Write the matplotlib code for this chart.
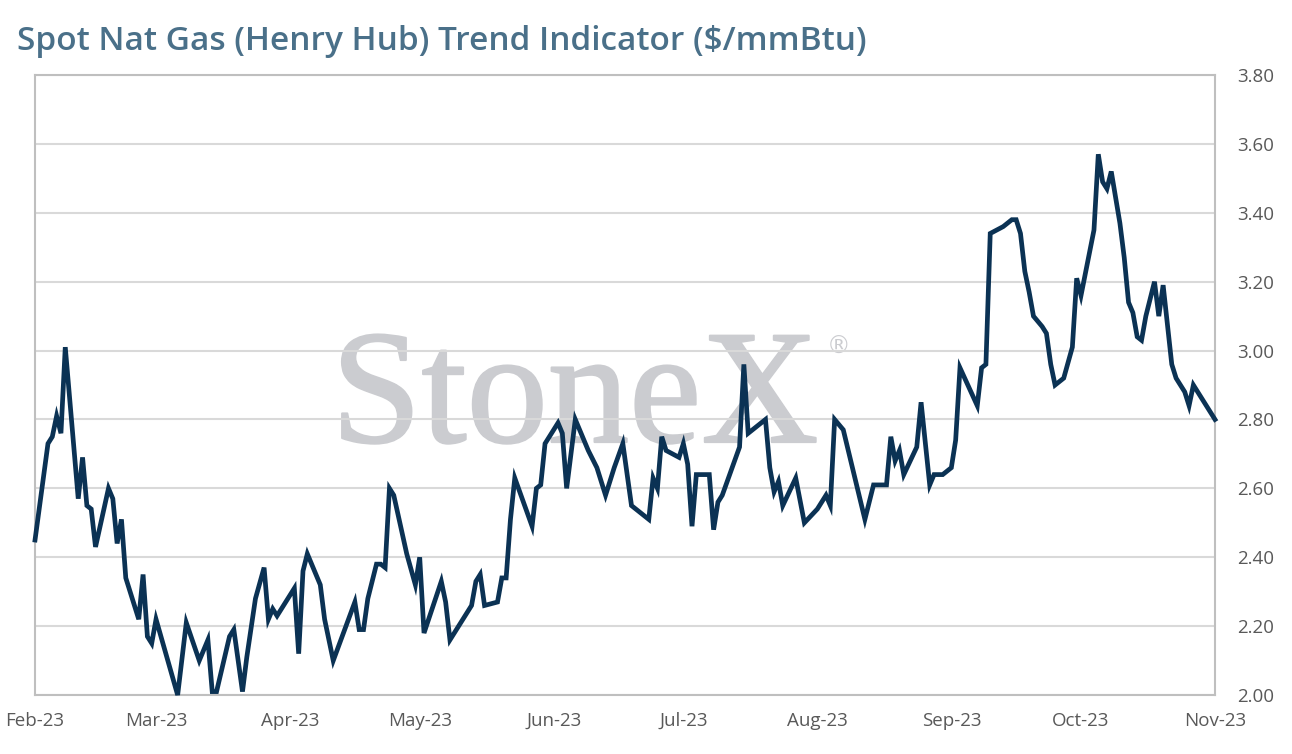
import matplotlib
matplotlib.use("Agg")
import matplotlib.pyplot as plt
import matplotlib.dates as mdates
import matplotlib.patheffects as pe
import pandas as pd

# spot henry hub trend indicator
dates = [
    "2023-02-01", "2023-02-04", "2023-02-05", "2023-02-06", "2023-02-07", "2023-02-08",
    "2023-02-11", "2023-02-12", "2023-02-13", "2023-02-14", "2023-02-15", "2023-02-18",
    "2023-02-19", "2023-02-20", "2023-02-21", "2023-02-22", "2023-02-25", "2023-02-26",
    "2023-02-27", "2023-02-28", "2023-03-01", "2023-03-06", "2023-03-08", "2023-03-11",
    "2023-03-13", "2023-03-14", "2023-03-15", "2023-03-18", "2023-03-19", "2023-03-21",
    "2023-03-22", "2023-03-24", "2023-03-26", "2023-03-27", "2023-03-28", "2023-03-29",
    "2023-03-31", "2023-04-02", "2023-04-03", "2023-04-04", "2023-04-05", "2023-04-08",
    "2023-04-09", "2023-04-11", "2023-04-16", "2023-04-17", "2023-04-18", "2023-04-19",
    "2023-04-21", "2023-04-22", "2023-04-23", "2023-04-24", "2023-04-25", "2023-04-28",
    "2023-04-30", "2023-05-01", "2023-05-02", "2023-05-06", "2023-05-07", "2023-05-08",
    "2023-05-09", "2023-05-13", "2023-05-14", "2023-05-15", "2023-05-16", "2023-05-19",
    "2023-05-20", "2023-05-21", "2023-05-22", "2023-05-23", "2023-05-27", "2023-05-28",
    "2023-05-29", "2023-05-30", "2023-06-02", "2023-06-03", "2023-06-04", "2023-06-06",
    "2023-06-09", "2023-06-11", "2023-06-13", "2023-06-15", "2023-06-17", "2023-06-19",
    "2023-06-23", "2023-06-24", "2023-06-25", "2023-06-26", "2023-06-27", "2023-06-30",
    "2023-07-01", "2023-07-02", "2023-07-03", "2023-07-04", "2023-07-07", "2023-07-08",
    "2023-07-09", "2023-07-10", "2023-07-14", "2023-07-15", "2023-07-16", "2023-07-20",
    "2023-07-21", "2023-07-22", "2023-07-23", "2023-07-24", "2023-07-27", "2023-07-29",
    "2023-08-01", "2023-08-03", "2023-08-04", "2023-08-05", "2023-08-07", "2023-08-12",
    "2023-08-14", "2023-08-17", "2023-08-18", "2023-08-19", "2023-08-20", "2023-08-21",
    "2023-08-24", "2023-08-25", "2023-08-27", "2023-08-28", "2023-08-30", "2023-09-01",
    "2023-09-02", "2023-09-03", "2023-09-07", "2023-09-08", "2023-09-09", "2023-09-10",
    "2023-09-13", "2023-09-15", "2023-09-16", "2023-09-17", "2023-09-18", "2023-09-19",
    "2023-09-20", "2023-09-22", "2023-09-23", "2023-09-24", "2023-09-25", "2023-09-27",
    "2023-09-29", "2023-09-30", "2023-10-01", "2023-10-04", "2023-10-05", "2023-10-06",
    "2023-10-07", "2023-10-08", "2023-10-10", "2023-10-11", "2023-10-12", "2023-10-13",
    "2023-10-14", "2023-10-15", "2023-10-16", "2023-10-18", "2023-10-19", "2023-10-20",
    "2023-10-22", "2023-10-23", "2023-10-25", "2023-10-26", "2023-10-27", "2023-10-29",
    "2023-11-01",
]
prices = [
    2.45, 2.73, 2.75, 2.81, 2.76, 3.01,
    2.57, 2.69, 2.55, 2.54, 2.43, 2.60,
    2.57, 2.44, 2.51, 2.34, 2.22, 2.35,
    2.17, 2.15, 2.22, 2.00, 2.21, 2.10,
    2.16, 2.01, 2.01, 2.17, 2.19, 2.01,
    2.11, 2.28, 2.37, 2.22, 2.25, 2.23,
    2.27, 2.31, 2.12, 2.36, 2.41, 2.32,
    2.22, 2.10, 2.27, 2.19, 2.19, 2.28,
    2.38, 2.38, 2.37, 2.60, 2.58, 2.41,
    2.32, 2.40, 2.18, 2.33, 2.27, 2.16,
    2.18, 2.26, 2.33, 2.35, 2.26, 2.27,
    2.34, 2.34, 2.51, 2.63, 2.49, 2.60,
    2.61, 2.73, 2.79, 2.76, 2.60, 2.80,
    2.71, 2.66, 2.58, 2.66, 2.73, 2.55,
    2.51, 2.63, 2.60, 2.75, 2.71, 2.69,
    2.73, 2.67, 2.49, 2.64, 2.64, 2.48,
    2.56, 2.58, 2.72, 2.96, 2.76, 2.80,
    2.66, 2.59, 2.62, 2.55, 2.63, 2.50,
    2.54, 2.58, 2.55, 2.80, 2.77, 2.51,
    2.61, 2.61, 2.75, 2.68, 2.71, 2.64,
    2.72, 2.85, 2.61, 2.64, 2.64, 2.66,
    2.74, 2.95, 2.84, 2.95, 2.96, 3.34,
    3.36, 3.38, 3.38, 3.34, 3.23, 3.17,
    3.10, 3.07, 3.05, 2.96, 2.90, 2.92,
    3.01, 3.21, 3.16, 3.35, 3.57, 3.49,
    3.47, 3.52, 3.37, 3.27, 3.14, 3.11,
    3.04, 3.03, 3.10, 3.20, 3.10, 3.19,
    2.96, 2.92, 2.88, 2.84, 2.90, 2.86,
    2.80,
]
yticks = [2.0, 2.2, 2.4, 2.6, 2.8, 3.0, 3.2, 3.4, 3.6, 3.8]

x = pd.to_datetime(dates)

fig = plt.figure(figsize=(12.92, 7.54), dpi=100)
ax = fig.add_axes([0.0271, 0.0782, 0.9133, 0.8223])

ax.plot(x, prices, color="#0b3254", lw=3.4, solid_joinstyle="miter", zorder=3, clip_on=False)

# watermark
ax.text(0.4576, 0.408, "StoneX", transform=ax.transAxes, ha="center", va="baseline",
        family="Liberation Serif", fontsize=117, color="#cbccd0", zorder=0,
        path_effects=[pe.withStroke(linewidth=1.5, foreground="#cbccd0")])
ax.text(0.681, 0.561, "\u00ae", transform=ax.transAxes, ha="center", va="center",
        family="DejaVu Sans", fontsize=17, color="#cbccd0", zorder=0)

ax.set_xlim(pd.Timestamp("2023-02-01"), pd.Timestamp("2023-11-01"))
ax.set_ylim(2.0, 3.8)
ax.set_yticks(yticks)
ax.yaxis.tick_right()
ax.yaxis.set_major_formatter(plt.FormatStrFormatter("%.2f"))
ax.xaxis.set_major_locator(mdates.MonthLocator())
ax.xaxis.set_major_formatter(mdates.DateFormatter("%b-%y"))

ax.grid(axis="y", color="#d9d9d9", lw=1.5, zorder=1)
ax.set_axisbelow(True)
for s in ax.spines.values():
    s.set_color("#bfbfbf")
    s.set_linewidth(1.5)
ax.tick_params(axis="both", length=0, labelsize=13.5, labelcolor="#595959")
ax.tick_params(axis="y", pad=16)
ax.tick_params(axis="x", pad=12)
for lab in ax.get_xticklabels() + ax.get_yticklabels():
    lab.set_family("Open Sans")

fig.text(0.013, 0.945, "Spot Nat Gas (Henry Hub) Trend Indicator ($/mmBtu)",
         family="Open Sans", fontweight="semibold", fontsize=24, color="#4a7089",
         ha="left", va="center")

fig.savefig("out.png", dpi=100)
